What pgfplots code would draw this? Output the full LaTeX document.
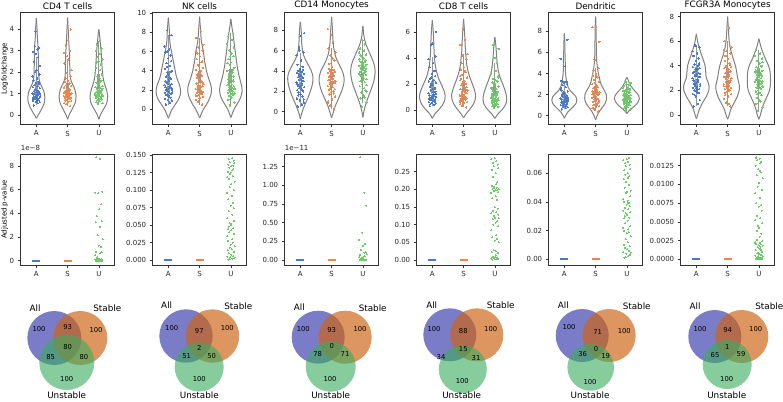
\documentclass[border=0pt]{standalone}
\usepackage{fontspec}
\setmainfont{DejaVu Sans}
\usepackage{pgfplots}
\usepackage{pgfplotstable}
\pgfplotsset{compat=1.18}
\definecolor{cb}{RGB}{72,120,208}
\definecolor{co}{RGB}{238,133,74}
\definecolor{cg}{RGB}{106,204,100}
\definecolor{vedgec}{RGB}{128,128,128}
\definecolor{iboxc}{RGB}{150,150,150}
\definecolor{vnA}{RGB}{60,62,172}
\definecolor{vnS}{RGB}{205,100,20}
\definecolor{vnU}{RGB}{60,172,95}

\pgfplotsset{
 vbase/.style={scale only axis, width=93.8pt, height=111.6pt, anchor=north west,
   xmin=-0.5, xmax=2.5, xtick={0,1,2}, xticklabels={A,S,U},
   tick pos=left, tick align=outside, major tick length=3pt,
   axis line style={black!80, line width=0.6pt}, tick style={black!80, line width=0.6pt},
   tick label style={font=\fontsize{7}{8}\selectfont, text=black!85},
   /pgf/number format/assume math mode=true, scaled y ticks=false,
   clip mode=individual,
   title style={font=\fontsize{8.8}{10}\selectfont, yshift=-6pt},
   label style={font=\fontsize{7}{8}\selectfont},
   ylabel style={at={(axis description cs:-0.171,0.5)}, anchor=center},
 },
 vedge/.style={vedgec, line width=1pt, smooth},
 pvbar/.style={line width=2.2pt},
}

\newcommand\violin[2]{%
  \addplot[vedge] table[x expr=#1+\thisrow{w}, y=y]{#2};
  \addplot[vedge] table[x expr=#1-\thisrow{w}, y=y]{#2};
}
\newcommand\innerbox[6]{%
  \addplot[iboxc, line width=0.8pt] coordinates {(#1,#2)(#1,#6)};
  \addplot[iboxc, line width=3.2pt] coordinates {(#1,#3)(#1,#5)};
  \addplot[only marks, mark=*, mark size=0.8pt, color=white, mark options={fill=white, draw=white}] coordinates {(#1,#4)};
}
\newcommand\strip[4]{%
  \addplot[only marks, mark=*, mark size=0.7pt, color=#4, mark options={fill=#4, draw=#4, line width=0pt}] table[x expr=#3, y=#2]{#1};
}
\newcommand\pvstrip[1]{%
  \addplot[only marks, mark=*, mark size=0.5pt, color=cg, mark options={fill=cg, draw=cg, line width=0pt}] table[x expr=2+\thisrow{j}, y=#1]{\pv};
}

% ---------- violin outlines (y, half width) ----------
\pgfplotstableread[row sep=\\]{y w\\ -0.15 0\\ 0 0.06\\ 0.2 0.14\\ 0.4 0.21\\ 0.6 0.26\\ 0.85 0.27\\ 1.1 0.24\\ 1.3 0.18\\ 1.5 0.12\\ 1.7 0.085\\ 2.0 0.07\\ 2.5 0.065\\ 3.0 0.06\\ 3.3 0.05\\ 3.7 0.03\\ 4.1 0.02\\ 4.52 0\\}\vCA
\pgfplotstableread[row sep=\\]{y w\\ -0.2 0\\ 0 0.05\\ 0.2 0.12\\ 0.4 0.19\\ 0.6 0.25\\ 0.9 0.27\\ 1.2 0.23\\ 1.4 0.17\\ 1.6 0.11\\ 1.8 0.08\\ 2.2 0.07\\ 2.7 0.065\\ 3.1 0.05\\ 3.5 0.035\\ 4.0 0.02\\ 4.55 0\\}\vCS
\pgfplotstableread[row sep=\\]{y w\\ -0.2 0\\ 0 0.05\\ 0.2 0.12\\ 0.4 0.2\\ 0.6 0.26\\ 0.9 0.28\\ 1.2 0.24\\ 1.5 0.17\\ 1.8 0.13\\ 2.1 0.11\\ 2.5 0.09\\ 3.0 0.07\\ 3.4 0.045\\ 3.7 0.025\\ 4.0 0\\}\vCU

\pgfplotstableread[row sep=\\]{y w\\ -0.93 0\\ -0.5 0.05\\ 0 0.12\\ 0.5 0.22\\ 1.0 0.32\\ 1.5 0.38\\ 2.0 0.39\\ 2.5 0.36\\ 3.0 0.3\\ 3.5 0.25\\ 4.0 0.22\\ 4.5 0.19\\ 5.0 0.16\\ 5.5 0.13\\ 6.0 0.1\\ 6.5 0.07\\ 7.0 0.05\\ 7.5 0.04\\ 8.0 0.035\\ 8.5 0.025\\ 9.0 0.012\\ 9.5 0\\}\vNA
\pgfplotstableread[row sep=\\]{y w\\ -0.9 0\\ -0.5 0.05\\ 0 0.12\\ 0.5 0.22\\ 1.0 0.3\\ 1.5 0.36\\ 2.0 0.38\\ 2.5 0.36\\ 3.0 0.31\\ 3.5 0.26\\ 4.0 0.22\\ 4.5 0.19\\ 5.0 0.16\\ 5.5 0.14\\ 6.0 0.12\\ 6.5 0.09\\ 7.0 0.06\\ 7.5 0.045\\ 8.0 0.035\\ 8.5 0.025\\ 9.0 0.012\\ 9.6 0\\}\vNS
\pgfplotstableread[row sep=\\]{y w\\ -0.85 0\\ -0.5 0.04\\ 0 0.1\\ 0.5 0.19\\ 1.0 0.28\\ 1.5 0.34\\ 2.0 0.36\\ 2.5 0.34\\ 3.0 0.3\\ 3.5 0.26\\ 4.0 0.23\\ 4.5 0.2\\ 5.0 0.18\\ 5.5 0.16\\ 6.0 0.14\\ 6.5 0.12\\ 7.0 0.1\\ 7.5 0.08\\ 8.0 0.06\\ 8.5 0.035\\ 9.0 0.015\\ 9.35 0\\}\vNU

\pgfplotstableread[row sep=\\]{y w\\ -0.72 0\\ -0.3 0.03\\ 0 0.06\\ 0.5 0.12\\ 1.0 0.19\\ 1.5 0.26\\ 2.0 0.32\\ 2.5 0.37\\ 3.0 0.4\\ 3.5 0.4\\ 4.0 0.35\\ 4.5 0.27\\ 5.0 0.18\\ 5.5 0.11\\ 6.0 0.07\\ 6.5 0.05\\ 7.0 0.04\\ 7.5 0.035\\ 8.0 0.025\\ 8.5 0.012\\ 8.8 0\\}\vMA
\pgfplotstableread[row sep=\\]{y w\\ -0.6 0\\ -0.3 0.03\\ 0 0.06\\ 0.5 0.11\\ 1.0 0.18\\ 1.5 0.25\\ 2.0 0.32\\ 2.5 0.37\\ 3.0 0.4\\ 3.5 0.39\\ 4.0 0.34\\ 4.5 0.26\\ 5.0 0.18\\ 5.5 0.12\\ 6.0 0.08\\ 6.5 0.06\\ 7.0 0.045\\ 7.5 0.035\\ 8.0 0.028\\ 8.5 0.018\\ 9.3 0\\}\vMS
\pgfplotstableread[row sep=\\]{y w\\ -0.55 0\\ 0 0.03\\ 0.5 0.07\\ 1.0 0.12\\ 1.5 0.18\\ 2.0 0.24\\ 2.5 0.3\\ 3.0 0.35\\ 3.5 0.38\\ 4.0 0.39\\ 4.5 0.37\\ 5.0 0.32\\ 5.5 0.25\\ 6.0 0.18\\ 6.5 0.11\\ 7.0 0.06\\ 7.5 0.03\\ 8.4 0\\}\vMU

\pgfplotstableread[row sep=\\]{y w\\ -0.64 0\\ -0.3 0.08\\ 0 0.2\\ 0.4 0.33\\ 0.8 0.4\\ 1.1 0.41\\ 1.5 0.37\\ 2.0 0.28\\ 2.5 0.19\\ 3.0 0.13\\ 3.5 0.09\\ 4.0 0.07\\ 4.5 0.055\\ 5.0 0.05\\ 5.5 0.04\\ 6.0 0.03\\ 6.5 0.015\\ 6.9 0\\}\vEA
\pgfplotstableread[row sep=\\]{y w\\ -0.6 0\\ -0.3 0.08\\ 0 0.18\\ 0.4 0.3\\ 0.8 0.37\\ 1.2 0.38\\ 1.6 0.34\\ 2.0 0.28\\ 2.5 0.2\\ 3.0 0.14\\ 3.5 0.1\\ 4.0 0.08\\ 4.5 0.06\\ 5.0 0.05\\ 5.5 0.04\\ 6.0 0.03\\ 6.5 0.015\\ 7.0 0\\}\vES
\pgfplotstableread[row sep=\\]{y w\\ -0.65 0\\ -0.3 0.1\\ 0 0.22\\ 0.4 0.34\\ 0.8 0.38\\ 1.2 0.36\\ 1.6 0.31\\ 2.0 0.25\\ 2.5 0.17\\ 3.0 0.11\\ 3.5 0.08\\ 4.0 0.06\\ 4.5 0.045\\ 5.0 0.03\\ 5.3 0.015\\ 5.6 0\\}\vEU

\pgfplotstableread[row sep=\\]{y w\\ -0.25 0\\ 0 0.04\\ 0.3 0.1\\ 0.6 0.2\\ 0.9 0.3\\ 1.2 0.38\\ 1.5 0.4\\ 1.8 0.37\\ 2.1 0.28\\ 2.4 0.18\\ 2.7 0.12\\ 3.0 0.09\\ 3.3 0.07\\ 3.7 0.05\\ 4.2 0.035\\ 5.0 0.03\\ 5.5 0.025\\ 6.0 0.02\\ 6.8 0.015\\ 7.4 0.008\\ 7.8 0\\}\vDA
\pgfplotstableread[row sep=\\]{y w\\ -0.4 0\\ 0 0.05\\ 0.4 0.12\\ 0.8 0.22\\ 1.2 0.31\\ 1.6 0.35\\ 2.0 0.34\\ 2.4 0.28\\ 2.8 0.2\\ 3.2 0.15\\ 3.6 0.12\\ 4.0 0.09\\ 4.5 0.06\\ 5.0 0.04\\ 5.5 0.03\\ 6.0 0.025\\ 7.0 0.02\\ 7.5 0.018\\ 8.3 0.015\\ 8.9 0.008\\ 9.4 0\\}\vDS
\pgfplotstableread[row sep=\\]{y w\\ 0.2 0\\ 0.4 0.05\\ 0.6 0.12\\ 0.8 0.2\\ 1.0 0.28\\ 1.3 0.36\\ 1.6 0.4\\ 1.9 0.38\\ 2.2 0.3\\ 2.5 0.21\\ 2.8 0.13\\ 3.1 0.08\\ 3.4 0.04\\ 3.65 0\\}\vDU

\pgfplotstableread[row sep=\\]{y w\\ -0.3 0\\ 0 0.04\\ 0.5 0.1\\ 1.0 0.2\\ 1.5 0.32\\ 2.0 0.4\\ 2.3 0.41\\ 2.7 0.37\\ 3.0 0.32\\ 3.5 0.3\\ 4.0 0.28\\ 4.5 0.22\\ 5.0 0.15\\ 5.5 0.09\\ 6.0 0.04\\ 6.6 0\\}\vFA
\pgfplotstableread[row sep=\\]{y w\\ -0.35 0\\ 0 0.05\\ 0.5 0.11\\ 1.0 0.21\\ 1.5 0.31\\ 2.0 0.37\\ 2.3 0.38\\ 2.7 0.35\\ 3.0 0.32\\ 3.5 0.29\\ 4.0 0.25\\ 4.5 0.19\\ 5.0 0.13\\ 5.5 0.08\\ 6.0 0.05\\ 6.5 0.035\\ 7.0 0.025\\ 7.5 0.012\\ 8.0 0\\}\vFS
\pgfplotstableread[row sep=\\]{y w\\ -0.35 0\\ 0 0.05\\ 0.5 0.1\\ 1.0 0.17\\ 1.5 0.26\\ 2.0 0.34\\ 2.5 0.37\\ 3.0 0.37\\ 3.5 0.36\\ 4.0 0.31\\ 4.5 0.22\\ 5.0 0.14\\ 5.5 0.07\\ 6.2 0\\}\vFU

% ---------- strip points: jitter j, k ; values a s u ----------
\pgfplotstableread{
j k a s u
-0.08 -0.03 0.45 0.42 0.50
0.05 0.11 0.55 0.50 0.55
0.11 -0.08 0.60 0.55 0.60
-0.02 0.02 0.62 0.60 0.65
-0.11 -0.05 0.68 0.65 0.70
0.07 0.08 0.70 0.68 0.72
0.01 0.04 0.72 0.72 0.75
-0.06 -0.10 0.75 0.75 0.80
0.09 -0.02 0.78 0.78 0.82
-0.10 0.06 0.80 0.80 0.85
0.03 -0.07 0.82 0.83 0.88
-0.04 0.12 0.85 0.86 0.90
0.12 0.01 0.87 0.88 0.93
-0.01 -0.04 0.90 0.90 0.95
0.06 0.10 0.92 0.93 0.98
-0.09 -0.12 0.95 0.95 1.00
0.04 0.03 0.98 0.98 1.03
-0.12 -0.09 1.00 1.00 1.06
0.10 0.07 1.02 1.03 1.10
-0.05 -0.01 1.05 1.06 1.13
0.02 0.09 1.08 1.10 1.16
0.08 -0.06 1.10 1.12 1.20
-0.07 0.05 1.12 1.15 1.25
0.00 -0.11 1.15 1.20 1.30
-0.03 0.11 1.20 1.25 1.35
0.11 -0.03 1.25 1.30 1.40
-0.11 0.00 1.30 1.35 1.45
0.05 -0.07 1.35 1.40 1.50
-0.06 0.08 1.40 1.48 1.60
0.09 0.02 1.45 1.55 1.70
-0.01 -0.05 1.50 1.60 1.80
0.07 0.10 1.55 1.70 1.90
-0.09 -0.12 1.62 1.80 2.00
0.03 0.04 1.70 1.95 2.10
-0.12 -0.09 1.80 2.10 2.20
0.10 0.06 1.90 2.40 2.35
-0.04 -0.01 2.00 2.60 2.50
0.01 0.12 2.10 2.75 2.60
0.12 -0.04 2.30 2.90 2.70
-0.07 0.03 2.50 3.00 2.85
0.06 -0.10 2.70 3.25 3.00
-0.02 0.09 2.85 3.50 3.10
-0.10 -0.06 2.95 4.00 3.30
0.04 0.01 3.05 0.70 3.45
0.08 0.07 3.15 0.85 0.78
-0.05 -0.11 3.20 0.95 0.92
0.02 -0.02 0.65 1.05 1.08
-0.08 0.11 0.88 1.18 1.22
0.11 0.05 1.00 1.28 1.55
-0.03 -0.08 3.90 0.62 2.45
}\ptC

\pgfplotstableread{
j k a s u
-0.08 -0.03 0.5 0.5 0.4
0.05 0.11 0.7 0.8 0.7
0.11 -0.08 0.9 1.0 1.0
-0.02 0.02 1.0 1.2 1.2
-0.11 -0.05 1.1 1.3 1.4
0.07 0.08 1.2 1.4 1.5
0.01 0.04 1.35 1.5 1.6
-0.06 -0.10 1.5 1.6 1.7
0.09 -0.02 1.6 1.7 1.8
-0.10 0.06 1.7 1.8 1.9
0.03 -0.07 1.8 1.9 2.0
-0.04 0.12 1.9 2.0 2.1
0.12 0.01 2.0 2.1 2.2
-0.01 -0.04 2.1 2.2 2.3
0.06 0.10 2.2 2.3 2.4
-0.09 -0.12 2.3 2.4 2.5
0.04 0.03 2.4 2.5 2.6
-0.12 -0.09 2.5 2.6 2.8
0.10 0.07 2.6 2.7 3.0
-0.05 -0.01 2.8 2.9 3.2
0.02 0.09 3.0 3.1 3.4
0.08 -0.06 3.2 3.3 3.6
-0.07 0.05 3.4 3.5 3.8
0.00 -0.11 3.6 3.7 4.0
-0.03 0.11 3.8 3.9 4.3
0.11 -0.03 4.0 4.1 4.6
-0.11 0.00 4.2 4.3 4.9
0.05 -0.07 4.5 4.6 5.2
-0.06 0.08 4.8 4.9 5.5
0.09 0.02 5.0 5.2 5.8
-0.01 -0.05 5.3 5.5 6.1
0.07 0.10 5.6 5.8 6.4
-0.09 -0.12 5.9 6.1 6.8
0.03 0.04 6.2 6.4 7.2
-0.12 -0.09 6.5 6.7 7.6
0.10 0.06 7.7 7.4 7.9
-0.04 -0.01 8.2 8.1 1.3
0.01 0.12 1.45 1.15 1.65
0.12 -0.04 1.75 1.45 1.95
-0.07 0.03 2.05 1.75 2.25
0.06 -0.10 2.35 2.05 2.55
-0.02 0.09 2.65 2.35 2.9
-0.10 -0.06 2.9 2.8 3.3
0.04 0.01 3.3 3.2 3.7
0.08 0.07 3.9 3.6 4.1
-0.05 -0.11 4.4 4.0 4.8
0.02 -0.02 1.25 4.5 5.5
-0.08 0.11 1.55 5.0 2.15
0.11 0.05 2.15 6.0 1.85
-0.03 -0.08 6.0 2.25 3.1
}\ptN

\pgfplotstableread{
j k a s u
-0.08 -0.03 0.5 0.3 0.5
0.05 0.11 0.7 0.6 0.9
0.11 -0.08 0.9 0.9 1.3
-0.02 0.02 1.1 1.2 1.6
-0.11 -0.05 1.3 1.5 1.9
0.07 0.08 1.5 1.7 2.1
0.01 0.04 1.7 1.9 2.3
-0.06 -0.10 1.9 2.0 2.5
0.09 -0.02 2.0 2.1 2.7
-0.10 0.06 2.1 2.2 2.9
0.03 -0.07 2.2 2.3 3.0
-0.04 0.12 2.3 2.4 3.2
0.12 0.01 2.4 2.5 3.4
-0.01 -0.04 2.5 2.6 3.5
0.06 0.10 2.6 2.7 3.6
-0.09 -0.12 2.7 2.8 3.7
0.04 0.03 2.8 2.9 3.8
-0.12 -0.09 2.9 3.0 3.9
0.10 0.07 3.0 3.1 4.0
-0.05 -0.01 3.1 3.2 4.1
0.02 0.09 3.2 3.3 4.2
0.08 -0.06 3.3 3.4 4.3
-0.07 0.05 3.4 3.5 4.4
0.00 -0.11 3.5 3.6 4.5
-0.03 0.11 3.6 3.7 4.6
0.11 -0.03 3.7 3.8 4.7
-0.11 0.00 3.8 3.9 4.8
0.05 -0.07 3.9 4.0 4.9
-0.06 0.08 4.0 4.1 5.0
0.09 0.02 4.1 4.2 5.2
-0.01 -0.05 4.2 4.4 5.4
0.07 0.10 4.4 4.7 5.6
-0.09 -0.12 4.6 5.0 5.8
0.03 0.04 5.0 5.5 6.0
-0.12 -0.09 5.5 5.8 6.2
0.10 0.06 5.8 6.2 6.6
-0.04 -0.01 6.3 6.8 7.0
0.01 0.12 7.4 7.5 2.6
0.12 -0.04 7.7 8.1 2.95
-0.07 0.03 1.6 1.8 3.3
0.06 -0.10 2.15 2.25 3.65
-0.02 0.09 2.45 2.55 3.95
-0.10 -0.06 2.75 2.85 4.25
0.04 0.01 3.05 3.15 4.55
0.08 0.07 3.35 3.45 4.85
-0.05 -0.11 3.65 3.75 5.1
0.02 -0.02 3.95 4.05 3.45
-0.08 0.11 2.55 2.95 2.0
0.11 0.05 1.2 1.0 1.4
-0.03 -0.08 6.0 5.2 5.5
}\ptM

\pgfplotstableread{
j k a s u
-0.08 -0.03 0.3 0.2 0.2
0.05 0.11 0.4 0.35 0.25
0.11 -0.08 0.5 0.45 0.3
-0.02 0.02 0.55 0.55 0.35
-0.11 -0.05 0.6 0.6 0.4
0.07 0.08 0.65 0.7 0.45
0.01 0.04 0.7 0.75 0.5
-0.06 -0.10 0.75 0.8 0.55
0.09 -0.02 0.8 0.85 0.6
-0.10 0.06 0.85 0.9 0.65
0.03 -0.07 0.9 1.0 0.7
-0.04 0.12 0.95 1.05 0.75
0.12 0.01 1.0 1.1 0.8
-0.01 -0.04 1.05 1.15 0.85
0.06 0.10 1.1 1.2 0.9
-0.09 -0.12 1.15 1.3 0.95
0.04 0.03 1.2 1.4 1.0
-0.12 -0.09 1.3 1.5 1.1
0.10 0.07 1.4 1.6 1.2
-0.05 -0.01 1.5 1.7 1.3
0.02 0.09 1.6 1.8 1.4
0.08 -0.06 1.7 1.9 1.5
-0.07 0.05 1.8 2.0 1.6
0.00 -0.11 1.9 2.1 1.7
-0.03 0.11 2.0 2.2 1.8
0.11 -0.03 2.1 2.3 1.9
-0.11 0.00 2.2 2.5 2.0
0.05 -0.07 2.3 2.7 2.1
-0.06 0.08 2.4 2.9 2.2
0.09 0.02 2.6 3.1 2.3
-0.01 -0.05 2.8 3.3 2.4
0.07 0.10 3.0 3.6 2.6
-0.09 -0.12 3.3 3.9 2.8
0.03 0.04 3.6 4.2 3.0
-0.12 -0.09 3.9 4.3 3.3
0.10 0.06 4.1 5.0 3.6
-0.04 -0.01 5.0 5.4 4.0
0.01 0.12 5.1 6.2 4.7
0.12 -0.04 6.0 0.65 5.0
-0.07 0.03 0.45 0.95 0.38
0.06 -0.10 0.68 1.25 0.58
-0.02 0.09 0.88 1.45 0.78
-0.10 -0.06 1.12 1.75 0.98
0.04 0.01 1.35 2.05 1.15
0.08 0.07 1.65 2.4 1.35
-0.05 -0.11 1.95 1.35 1.65
0.02 -0.02 2.25 0.5 1.95
-0.08 0.11 0.98 1.55 2.5
0.11 0.05 1.25 2.6 0.68
-0.03 -0.08 2.5 3.0 1.25
}\ptE

\pgfplotstableread{
j k a s u
-0.08 -0.03 0.6 0.4 0.5
0.05 0.11 0.7 0.6 0.6
0.11 -0.08 0.8 0.7 0.7
-0.02 0.02 0.9 0.8 0.8
-0.11 -0.05 1.0 0.9 0.9
0.07 0.08 1.05 1.0 1.0
0.01 0.04 1.1 1.1 1.05
-0.06 -0.10 1.15 1.2 1.1
0.09 -0.02 1.2 1.3 1.15
-0.10 0.06 1.25 1.4 1.2
0.03 -0.07 1.3 1.5 1.25
-0.04 0.12 1.35 1.6 1.3
0.12 0.01 1.4 1.7 1.35
-0.01 -0.04 1.45 1.8 1.4
0.06 0.10 1.5 1.9 1.45
-0.09 -0.12 1.55 2.0 1.5
0.04 0.03 1.6 2.1 1.55
-0.12 -0.09 1.65 2.2 1.6
0.10 0.07 1.7 2.3 1.65
-0.05 -0.01 1.75 2.4 1.7
0.02 0.09 1.8 2.5 1.75
0.08 -0.06 1.9 2.6 1.8
-0.07 0.05 2.0 2.7 1.85
0.00 -0.11 2.1 2.8 1.9
-0.03 0.11 2.2 2.9 1.95
0.11 -0.03 2.3 3.0 2.0
-0.11 0.00 2.5 3.2 2.05
0.05 -0.07 2.7 3.4 2.1
-0.06 0.08 2.9 3.6 2.2
0.09 0.02 3.0 3.8 2.3
-0.01 -0.05 3.1 4.0 2.4
0.07 0.10 3.2 4.3 2.5
-0.09 -0.12 3.3 4.5 2.6
0.03 0.04 4.7 5.3 2.7
-0.12 -0.09 5.4 7.0 2.8
0.10 0.06 7.2 8.4 2.9
-0.04 -0.01 1.12 1.05 3.0
0.01 0.12 1.38 1.35 3.1
0.12 -0.04 1.62 1.65 3.2
-0.07 0.03 1.85 1.95 1.12
0.06 -0.10 0.95 2.25 1.32
-0.02 0.09 2.05 2.55 1.52
-0.10 -0.06 2.6 1.25 1.72
0.04 0.01 1.48 1.75 1.92
0.08 0.07 1.28 0.75 2.15
-0.05 -0.11 0.85 2.15 2.35
0.02 -0.02 1.72 3.1 0.85
-0.08 0.11 2.4 1.55 1.62
0.11 0.05 1.58 2.05 2.55
-0.03 -0.08 3.15 3.7 1.42
}\ptD

\pgfplotstableread{
j k a s u
-0.08 -0.03 0.7 0.7 0.3
0.05 0.11 0.9 1.0 0.6
0.11 -0.08 1.2 1.3 0.9
-0.02 0.02 1.5 1.5 1.2
-0.11 -0.05 1.7 1.7 1.4
0.07 0.08 1.8 1.8 1.6
0.01 0.04 1.9 1.9 1.8
-0.06 -0.10 2.0 2.0 1.9
0.09 -0.02 2.1 2.1 2.0
-0.10 0.06 2.2 2.2 2.1
0.03 -0.07 2.3 2.3 2.2
-0.04 0.12 2.4 2.4 2.3
0.12 0.01 2.5 2.5 2.4
-0.01 -0.04 2.6 2.6 2.5
0.06 0.10 2.7 2.7 2.6
-0.09 -0.12 2.8 2.8 2.7
0.04 0.03 2.9 2.9 2.8
-0.12 -0.09 3.0 3.0 2.9
0.10 0.07 3.1 3.1 3.0
-0.05 -0.01 3.2 3.2 3.1
0.02 0.09 3.3 3.3 3.2
0.08 -0.06 3.4 3.4 3.3
-0.07 0.05 3.5 3.5 3.4
0.00 -0.11 3.6 3.6 3.5
-0.03 0.11 3.7 3.7 3.6
0.11 -0.03 3.8 3.8 3.7
-0.11 0.00 3.9 3.9 3.8
0.05 -0.07 4.0 4.0 3.9
-0.06 0.08 4.1 4.2 4.0
0.09 0.02 4.2 4.4 4.2
-0.01 -0.05 4.4 4.6 4.4
0.07 0.10 4.6 4.8 4.6
-0.09 -0.12 4.8 5.0 4.8
0.03 0.04 5.0 5.2 5.0
-0.12 -0.09 5.2 5.5 5.3
0.10 0.06 5.5 6.0 2.15
-0.04 -0.01 5.7 7.1 2.45
0.01 0.12 2.15 2.15 2.75
0.12 -0.04 2.35 2.35 3.05
-0.07 0.03 2.55 2.65 3.35
0.06 -0.10 2.85 2.95 3.65
-0.02 0.09 3.15 3.25 3.95
-0.10 -0.06 3.45 3.55 1.7
0.04 0.01 3.75 3.85 2.25
0.08 0.07 4.05 1.6 2.55
-0.05 -0.11 1.6 2.05 3.45
0.02 -0.02 2.05 2.45 3.75
-0.08 0.11 2.75 4.1 4.3
0.11 0.05 3.35 5.3 1.1
-0.03 -0.08 5.6 0.9 2.85
}\ptF

% ---------- adjusted p-values of the U group ----------
\pgfplotstableread{
j nk ce dc fc cf cm
-0.08 0.001 0.001 0.001 0.0001 8.73 1.375
0.05 0.002 0.002 0.002 0.0002 8.60 0.90
0.11 0.003 0.003 0.003 0.0003 5.83 0.73
-0.02 0.004 0.004 0.004 0.0004 5.69 0.366
-0.11 0.005 0.005 0.005 0.0005 5.75 0.268
0.07 0.006 0.006 0.006 0.0006 4.76 0.22
0.01 0.008 0.008 0.007 0.0007 4.34 0.19
-0.06 0.010 0.010 0.008 0.0008 3.77 0.134
0.09 0.012 0.020 0.009 0.0010 3.35 0.107
-0.10 0.014 0.022 0.010 0.0012 3.24 0.067
0.03 0.016 0.025 0.012 0.0014 2.87 0.045
-0.04 0.018 0.028 0.014 0.0016 2.17 0.03
0.12 0.020 0.050 0.016 0.0018 1.83 0.08
-0.01 0.022 0.055 0.018 0.0019 1.27 0.02
0.06 0.025 0.060 0.019 0.0020 1.18 0.05
-0.09 0.028 0.065 0.020 0.0021 0.76 0.01
0.04 0.030 0.070 0.021 0.0022 0.62 0.10
-0.12 0.034 0.085 0.022 0.0023 0.48 0.04
0.10 0.038 0.095 0.023 0.0024 0.70 nan
-0.05 0.040 0.100 0.025 0.0026 0.30 nan
0.02 0.043 0.105 0.027 0.0030 0.18 nan
0.08 0.046 0.110 0.029 0.0034 0.12 nan
-0.07 0.048 0.115 0.030 0.0038 0.20 nan
0.00 0.050 0.120 0.031 0.0042 0.05 nan
-0.03 0.053 0.125 0.032 0.0045 0.08 nan
0.11 0.056 0.128 0.033 0.0048 0.03 nan
-0.11 0.060 0.132 0.034 0.0052 0.10 nan
0.05 0.065 0.135 0.035 0.0055 0.06 nan
-0.06 0.070 0.140 0.036 0.0058 0.04 nan
0.09 0.074 0.145 0.037 0.0065 0.02 nan
-0.01 0.078 0.150 0.038 0.0070 nan nan
0.07 0.082 0.170 0.039 0.0072 nan nan
-0.09 0.087 0.175 0.040 0.0075 nan nan
0.03 0.092 0.180 0.041 0.0082 nan nan
-0.12 0.096 0.190 0.042 0.0088 nan nan
0.10 0.100 0.192 0.044 0.0093 nan nan
-0.04 0.104 0.195 0.046 0.0097 nan nan
0.01 0.108 0.198 0.047 0.0102 nan nan
0.12 0.112 0.200 0.048 0.0108 nan nan
-0.07 0.116 0.202 0.050 0.0112 nan nan
0.06 0.120 0.205 0.052 0.0116 nan nan
-0.02 0.123 0.208 0.054 0.0120 nan nan
-0.10 0.126 0.210 0.056 0.0125 nan nan
0.04 0.128 0.215 0.057 0.0128 nan nan
0.08 0.130 0.220 0.058 0.0130 nan nan
-0.05 0.132 0.235 0.059 0.0132 nan nan
0.02 0.134 0.245 0.060 0.0134 nan nan
-0.08 0.136 0.255 0.062 0.0135 nan nan
0.11 0.138 0.260 0.063 0.0005 nan nan
-0.03 0.140 0.265 0.065 0.0009 nan nan
0.09 0.142 0.270 0.066 0.0011 nan nan
-0.06 0.144 0.275 0.067 0.0003 nan nan
0.04 0.145 0.280 0.068 0.0017 nan nan
-0.11 0.118 0.285 0.069 0.0021 nan nan
0.00 0.125 0.288 0.070 0.0015 nan nan
0.07 0.135 0.197 0.071 0.0013 nan nan
-0.03 0.0015 0.203 0.0015 0.0002 nan nan
0.12 0.0035 0.118 0.0045 0.0004 nan nan
-0.09 0.044 0.008 0.0285 0.0136 nan nan
0.02 0.052 0.013 0.0395 0.0118 nan nan
}\pv

\newcommand\vfont{\fontsize{8.8}{10}\selectfont}
\newcommand\nfont{\fontsize{6.8}{8}\selectfont}
\tikzset{vl/.style={font=\vfont, inner sep=0pt}, vn/.style={font=\nfont, inner sep=0pt}}

\begin{document}
\begin{tikzpicture}
\useasboundingbox (0,0) rectangle (783pt,-401pt);

% ================= ROW 1 =================
\begin{axis}[vbase, at={(20.7pt,-12.7pt)}, ymin=-0.434, ymax=4.776, ytick={0,1,2,3,4}, title={CD4 T cells}, ylabel={Logfoldchange}]
\violin{0}{\vCA}\violin{1}{\vCS}\violin{2}{\vCU}
\innerbox{0}{0.45}{0.78}{1.1}{1.55}{2.7}
\innerbox{1}{0.42}{0.78}{1.05}{1.5}{2.6}
\innerbox{2}{0.5}{0.85}{1.15}{1.9}{3.45}
\strip{\ptC}{a}{\thisrow{j}}{cb}
\strip{\ptC}{s}{1-\thisrow{j}}{co}
\strip{\ptC}{u}{2+\thisrow{k}}{cg}
\end{axis}

\begin{axis}[vbase, at={(152.7pt,-12.7pt)}, ymin=-1.55, ymax=10.02, ytick={0,2,4,6,8,10}, title={NK cells}]
\violin{0}{\vNA}\violin{1}{\vNS}\violin{2}{\vNU}
\innerbox{0}{0.5}{1.6}{2.5}{4.0}{7.7}
\innerbox{1}{0.5}{1.7}{2.6}{4.0}{7.4}
\innerbox{2}{0.4}{1.8}{2.6}{4.2}{7.9}
\strip{\ptN}{a}{\thisrow{j}}{cb}
\strip{\ptN}{s}{1-\thisrow{j}}{co}
\strip{\ptN}{u}{2+\thisrow{k}}{cg}
\end{axis}

\begin{axis}[vbase, at={(284.7pt,-12.7pt)}, ymin=-1.23, ymax=9.7, ytick={0,2,4,6,8}, title={CD14 Monocytes}]
\violin{0}{\vMA}\violin{1}{\vMS}\violin{2}{\vMU}
\innerbox{0}{0.5}{2.2}{3.0}{3.9}{5.8}
\innerbox{1}{0.3}{2.3}{3.1}{3.9}{6.2}
\innerbox{2}{0.9}{3.0}{3.9}{4.7}{7.0}
\strip{\ptM}{a}{\thisrow{j}}{cb}
\strip{\ptM}{s}{1-\thisrow{j}}{co}
\strip{\ptM}{u}{2+\thisrow{k}}{cg}
\end{axis}

\begin{axis}[vbase, at={(416.7pt,-12.7pt)}, ymin=-1.1, ymax=7.48, ytick={0,2,4,6}, title={CD8 T cells}]
\violin{0}{\vEA}\violin{1}{\vES}\violin{2}{\vEU}
\innerbox{0}{0.3}{0.75}{1.2}{2.2}{4.1}
\innerbox{1}{0.2}{0.8}{1.3}{2.2}{4.3}
\innerbox{2}{0.2}{0.6}{1.0}{1.9}{3.6}
\strip{\ptE}{a}{\thisrow{j}}{cb}
\strip{\ptE}{s}{1-\thisrow{j}}{co}
\strip{\ptE}{u}{2+\thisrow{k}}{cg}
\end{axis}

\begin{axis}[vbase, at={(548.7pt,-12.7pt)}, ymin=-0.82, ymax=9.77, ytick={0,2,4,6,8}, title={Dendritic}]
\violin{0}{\vDA}\violin{1}{\vDS}\violin{2}{\vDU}
\innerbox{0}{0.6}{1.2}{1.6}{2.2}{3.3}
\innerbox{1}{0.4}{1.3}{1.9}{2.7}{4.5}
\innerbox{2}{0.5}{1.2}{1.65}{2.1}{3.2}
\strip{\ptD}{a}{\thisrow{j}}{cb}
\strip{\ptD}{s}{1-\thisrow{j}}{co}
\strip{\ptD}{u}{2+\thisrow{k}}{cg}
\end{axis}

\begin{axis}[vbase, at={(680.7pt,-12.7pt)}, ymin=-0.76, ymax=8.32, ytick={0,2,4,6,8}, title={FCGR3A Monocytes}]
\violin{0}{\vFA}\violin{1}{\vFS}\violin{2}{\vFU}
\innerbox{0}{0.7}{2.2}{3.0}{3.9}{5.7}
\innerbox{1}{0.7}{2.2}{2.9}{3.8}{6.0}
\innerbox{2}{0.3}{2.2}{3.0}{3.8}{5.3}
\strip{\ptF}{a}{\thisrow{j}}{cb}
\strip{\ptF}{s}{1-\thisrow{j}}{co}
\strip{\ptF}{u}{2+\thisrow{k}}{cg}
\end{axis}

% ================= ROW 2 =================
\begin{axis}[vbase, height=111pt, at={(20.7pt,-154pt)}, ymin=-0.36, ymax=9.02, ytick={0,2,4,6,8}, ylabel={Adjusted p-value}]
\addplot[cb, pvbar] coordinates {(-0.13,0)(0.13,0)};
\addplot[co, pvbar] coordinates {(0.87,0)(1.13,0)};
\addplot[cg, pvbar] coordinates {(1.87,0)(2.13,0)};
\pvstrip{cf}
\node[anchor=south west, inner sep=0pt, font=\fontsize{7}{8}\selectfont, text=black!85] at (axis description cs:0,1.025) {1e−8};
\end{axis}

\begin{axis}[vbase, height=111pt, at={(152.7pt,-154pt)}, ymin=-0.0067, ymax=0.1514, ytick={0,0.025,0.05,0.075,0.1,0.125,0.15}, yticklabel style={/pgf/number format/.cd, fixed, fixed zerofill, precision=3}]
\addplot[cb, pvbar] coordinates {(-0.13,0)(0.13,0)};
\addplot[co, pvbar] coordinates {(0.87,0)(1.13,0)};
\pvstrip{nk}
\end{axis}

\begin{axis}[vbase, height=111pt, at={(284.7pt,-154pt)}, ymin=-0.067, ymax=1.42, ytick={0,0.25,0.5,0.75,1,1.25}, yticklabel style={/pgf/number format/.cd, fixed, fixed zerofill, precision=2}]
\addplot[cb, pvbar] coordinates {(-0.13,0)(0.13,0)};
\addplot[co, pvbar] coordinates {(0.87,0)(1.13,0)};
\addplot[cg, pvbar] coordinates {(1.87,0)(2.13,0)};
\pvstrip{cm}
\node[anchor=south west, inner sep=0pt, font=\fontsize{7}{8}\selectfont, text=black!85] at (axis description cs:0,1.025) {1e−11};
\end{axis}

\begin{axis}[vbase, height=111pt, at={(416.7pt,-154pt)}, ymin=-0.014, ymax=0.30, ytick={0,0.05,0.1,0.15,0.2,0.25}, yticklabel style={/pgf/number format/.cd, fixed, fixed zerofill, precision=2}]
\addplot[cb, pvbar] coordinates {(-0.13,0)(0.13,0)};
\addplot[co, pvbar] coordinates {(0.87,0)(1.13,0)};
\pvstrip{ce}
\end{axis}

\begin{axis}[vbase, height=111pt, at={(548.7pt,-154pt)}, ymin=-0.004, ymax=0.0735, ytick={0,0.02,0.04,0.06}, yticklabel style={/pgf/number format/.cd, fixed, fixed zerofill, precision=2}]
\addplot[cb, pvbar] coordinates {(-0.13,0)(0.13,0)};
\addplot[co, pvbar] coordinates {(0.87,0)(1.13,0)};
\pvstrip{dc}
\end{axis}

\begin{axis}[vbase, height=111pt, at={(680.7pt,-154pt)}, ymin=-0.00076, ymax=0.01406, ytick={0,0.0025,0.005,0.0075,0.01,0.0125}, yticklabel style={/pgf/number format/.cd, fixed, fixed zerofill, precision=4}]
\addplot[cb, pvbar] coordinates {(-0.13,0)(0.13,0)};
\addplot[co, pvbar] coordinates {(0.87,0)(1.13,0)};
\addplot[cg, pvbar] coordinates {(1.87,0)(2.13,0)};
\pvstrip{fc}
\end{axis}

% ================= ROW 3 : Venn diagrams =================
\begin{axis}[scale only axis, width=783pt, height=111pt, at={(0pt,-290pt)}, anchor=north west,
  xmin=0, xmax=783, ymin=290, ymax=401, y dir=reverse, hide axis, clip=false]
% panel 1
\fill[vnA, fill opacity=0.68] (axis cs:54.3,338) circle[radius=27pt];
\fill[vnS, fill opacity=0.68] (axis cs:80.3,338) circle[radius=27pt];
\fill[vnU, fill opacity=0.62] (axis cs:66.8,362.5) circle[radius=27.5pt];
% panel 2
\fill[vnA, fill opacity=0.68] (axis cs:186,336) circle[radius=26.7pt];
\fill[vnS, fill opacity=0.68] (axis cs:212.5,336) circle[radius=26.7pt];
\fill[vnU, fill opacity=0.62] (axis cs:199.2,367) circle[radius=24.5pt];
% panel 3
\fill[vnA, fill opacity=0.68] (axis cs:318.2,337.2) circle[radius=26.5pt];
\fill[vnS, fill opacity=0.68] (axis cs:345.2,337.2) circle[radius=26.5pt];
\fill[vnU, fill opacity=0.62] (axis cs:330.7,366.7) circle[radius=25pt];
% panel 4
\fill[vnA, fill opacity=0.68] (axis cs:449.8,334.8) circle[radius=26.5pt];
\fill[vnS, fill opacity=0.68] (axis cs:476.8,334.8) circle[radius=26.5pt];
\fill[vnU, fill opacity=0.62] (axis cs:462.8,369.3) circle[radius=24pt];
% panel 5
\fill[vnA, fill opacity=0.68] (axis cs:582.2,335.5) circle[radius=26.5pt];
\fill[vnS, fill opacity=0.68] (axis cs:609.2,335.5) circle[radius=26.5pt];
\fill[vnU, fill opacity=0.62] (axis cs:590.7,367.4) circle[radius=23.3pt];
% panel 6
\fill[vnA, fill opacity=0.68] (axis cs:714.8,336.5) circle[radius=26.5pt];
\fill[vnS, fill opacity=0.68] (axis cs:741.8,336.5) circle[radius=26.5pt];
\fill[vnU, fill opacity=0.62] (axis cs:727.2,364.5) circle[radius=24.5pt];

% labels panel 1
\node[vl] at (axis cs:35,308) {All};
\node[vl] at (axis cs:107.3,308) {Stable};
\node[vl] at (axis cs:66.7,395) {Unstable};
\node[vn] at (axis cs:39,329.3) {100};
\node[vn] at (axis cs:67.7,326.7) {93};
\node[vn] at (axis cs:96,330) {100};
\node[vn] at (axis cs:67.7,346.7) {80};
\node[vn] at (axis cs:50.7,356.7) {85};
\node[vn] at (axis cs:84,356.7) {80};
\node[vn] at (axis cs:66.7,379.3) {100};
% labels panel 2
\node[vl] at (axis cs:166.7,305.5) {All};
\node[vl] at (axis cs:238.3,306.5) {Stable};
\node[vl] at (axis cs:199.3,395) {Unstable};
\node[vn] at (axis cs:171.7,328.3) {100};
\node[vn] at (axis cs:199.3,331) {97};
\node[vn] at (axis cs:227.3,328.3) {100};
\node[vn] at (axis cs:199.3,348.3) {2};
\node[vn] at (axis cs:186.7,356) {51};
\node[vn] at (axis cs:211.7,356) {50};
\node[vn] at (axis cs:199.3,379.3) {100};
% labels panel 3
\node[vl] at (axis cs:299.3,307.3) {All};
\node[vl] at (axis cs:372.7,308.3) {Stable};
\node[vl] at (axis cs:330.7,395) {Unstable};
\node[vn] at (axis cs:303.3,329) {100};
\node[vn] at (axis cs:331.7,330) {93};
\node[vn] at (axis cs:360,329.3) {100};
\node[vn] at (axis cs:331.7,346) {0};
\node[vn] at (axis cs:317.7,354) {78};
\node[vn] at (axis cs:345,354) {71};
\node[vn] at (axis cs:330,378.7) {100};
% labels panel 4
\node[vl] at (axis cs:431.7,305) {All};
\node[vl] at (axis cs:500.7,305) {Stable};
\node[vl] at (axis cs:461.7,395.5) {Unstable};
\node[vn] at (axis cs:434,329) {100};
\node[vn] at (axis cs:463.3,331) {88};
\node[vn] at (axis cs:490.7,329) {100};
\node[vn] at (axis cs:463.3,349.3) {15};
\node[vn] at (axis cs:441,356.7) {34};
\node[vn] at (axis cs:476,358.3) {31};
\node[vn] at (axis cs:462.3,381) {100};
% labels panel 5
\node[vl] at (axis cs:563.3,305) {All};
\node[vl] at (axis cs:636.7,306.7) {Stable};
\node[vl] at (axis cs:590,395.5) {Unstable};
\node[vn] at (axis cs:569,327) {100};
\node[vn] at (axis cs:597.7,332.3) {71};
\node[vn] at (axis cs:624.3,331) {100};
\node[vn] at (axis cs:596,349) {0};
\node[vn] at (axis cs:582.7,354.3) {36};
\node[vn] at (axis cs:605.7,356) {19};
\node[vn] at (axis cs:590,381.7) {100};
% labels panel 6
\node[vl] at (axis cs:695,306) {All};
\node[vl] at (axis cs:769.3,306.7) {Stable};
\node[vl] at (axis cs:726.7,395) {Unstable};
\node[vn] at (axis cs:700,329) {100};
\node[vn] at (axis cs:727.7,330) {94};
\node[vn] at (axis cs:755.7,329) {100};
\node[vn] at (axis cs:727.3,346.7) {1};
\node[vn] at (axis cs:715,355) {65};
\node[vn] at (axis cs:741,354) {59};
\node[vn] at (axis cs:726.7,379.3) {100};
\end{axis}
\end{tikzpicture}
\end{document}
